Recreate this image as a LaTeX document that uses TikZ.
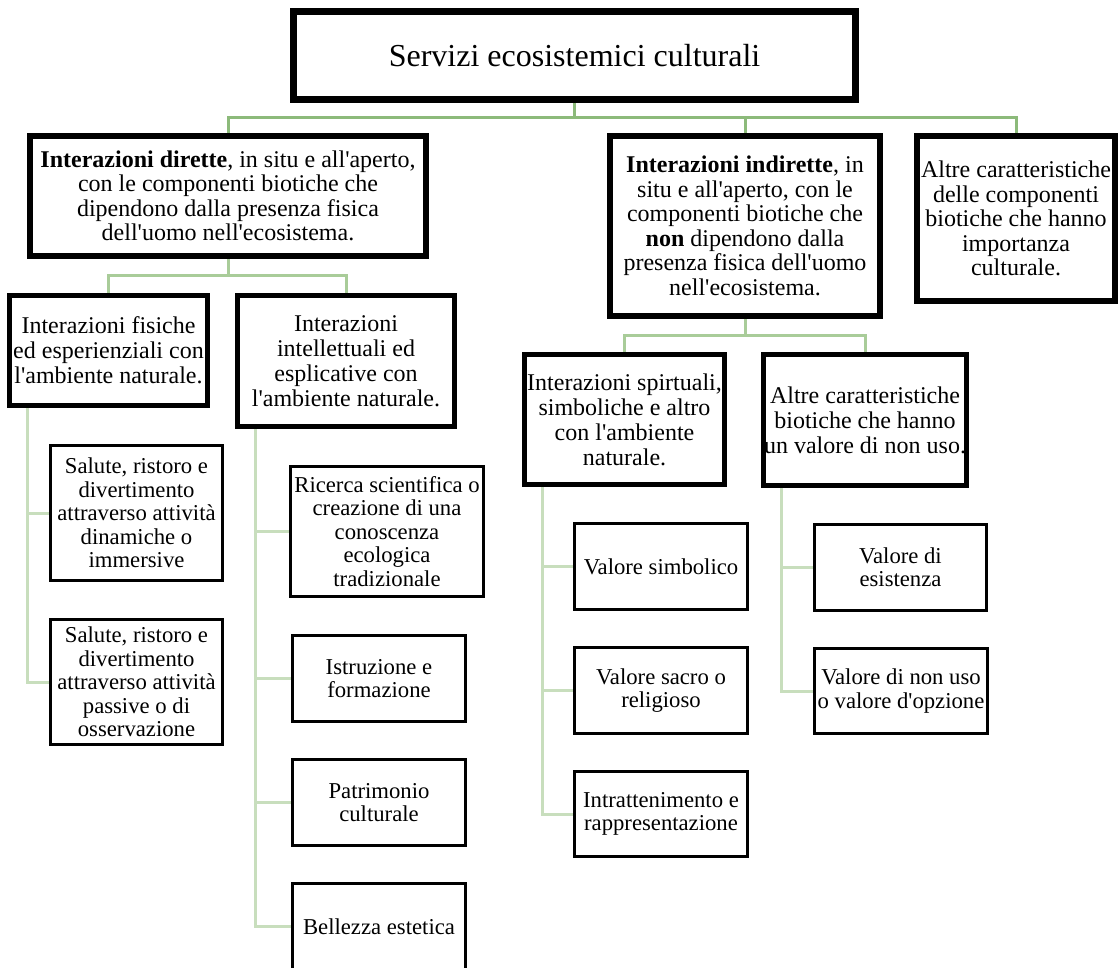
\documentclass[tikz,border=0pt]{standalone}
\usepackage{fontspec}
\setmainfont{Liberation Serif}[Ligatures=TeXOff]
\usepackage{xcolor}
\definecolor{ink}{HTML}{000000}
\definecolor{linkdark}{HTML}{8CBA7A}
\definecolor{linkmid}{HTML}{A9CC99}
\definecolor{linklight}{HTML}{C8DEBD}
\usetikzlibrary{positioning,backgrounds}

\tikzset{
	rootbox/.style={draw=ink, line width=7pt, inner sep=0pt, align=center,
		font=\fontsize{32}{36}\selectfont},
	topbox/.style={draw=ink, line width=6pt, inner sep=0pt, align=center,
		font=\fontsize{24}{24.5}\selectfont},
	midbox/.style={draw=ink, line width=5pt, inner sep=0pt, align=center,
		font=\fontsize{24}{25}\selectfont},
	leafbox/.style={draw=ink, line width=3pt, inner sep=0pt, align=center,
		font=\fontsize{22.7}{23.4}\selectfont},
	linkA/.style={draw=linkdark, line width=3pt},
	linkB/.style={draw=linkmid, line width=3pt},
	linkC/.style={draw=linklight, line width=3pt}
}

\begin{document}
\begin{tikzpicture}[x=1pt, y=-1pt]

		\useasboundingbox (0,0) rectangle (1119,967);

		% ================= root =================
		\node[rootbox, minimum width=562, minimum height=88] (root) at (574.5,55.5)
			{Servizi ecosistemici culturali};

		% ================= first level =================
		\node[topbox, minimum width=396, minimum height=120] (dir) at (228,196)
			{\textbf{Interazioni dirette}, in situ e all'aperto,\\con le componenti biotiche che\\dipendono dalla presenza fisica\\dell'uomo nell'ecosistema.};
		\node[topbox, minimum width=270, minimum height=180] (ind) at (745,226)
			{\textbf{Interazioni indirette}, in\\situ e all'aperto, con le\\componenti biotiche che\\\textbf{non} dipendono dalla\\presenza fisica dell'uomo\\nell'ecosistema.};
		\node[topbox, minimum width=198, minimum height=165] (altre) at (1016,218.5)
			{Altre caratteristiche\\delle componenti\\biotiche che hanno\\importanza\\culturale.};

		% ================= second level =================
		\node[midbox, minimum width=198, minimum height=110] (fis) at (108.5,350.5)
			{Interazioni fisiche\\ed esperienziali con\\l'ambiente naturale.};
		\node[midbox, minimum width=217, minimum height=131] (int) at (346,361)
			{Interazioni\\intellettuali ed\\esplicative con\\l'ambiente naturale.};
		\node[midbox, minimum width=200, minimum height=130] (spi) at (624.5,419.5)
			{Interazioni spirtuali,\\simboliche e altro\\con l'ambiente\\naturale.};
		\node[midbox, minimum width=203, minimum height=131] (nonuso) at (865,420)
			{Altre caratteristiche\\biotiche che hanno\\un valore di non uso.};

		% ================= leaves =================
		\node[leafbox, minimum width=172, minimum height=135] (fisA) at (136.5,513)
			{Salute, ristoro e\\divertimento\\attraverso attività\\dinamiche o\\immersive};
		\node[leafbox, minimum width=172, minimum height=125] (fisB) at (136.5,682)
			{Salute, ristoro e\\divertimento\\attraverso attività\\passive o di\\osservazione};

		\node[leafbox, minimum width=193, minimum height=130] (intA) at (387,531.5)
			{Ricerca scientifica o\\creazione di una\\conoscenza\\ecologica\\tradizionale};
		\node[leafbox, minimum width=173, minimum height=86] (intB) at (379,678.5)
			{Istruzione e\\formazione};
		\node[leafbox, minimum width=173, minimum height=86] (intC) at (379,802.5)
			{Patrimonio\\culturale};
		\node[leafbox, minimum width=173, minimum height=86] (intD) at (379,926.5)
			{Bellezza estetica};

		\node[leafbox, minimum width=173, minimum height=86] (spiA) at (661,566.5)
			{Valore simbolico};
		\node[leafbox, minimum width=173, minimum height=86] (spiB) at (661,690.5)
			{Valore sacro o\\religioso};
		\node[leafbox, minimum width=173, minimum height=85] (spiC) at (661,814)
			{Intrattenimento e\\rappresentazione};

		\node[leafbox, minimum width=172, minimum height=86] (nonusoA) at (900.5,567.5)
			{Valore di\\esistenza};
		\node[leafbox, minimum width=173, minimum height=85] (nonusoB) at (901,691)
			{Valore di non uso\\o valore d'opzione};

		% ================= connectors =================
		\begin{scope}[on background layer]
			\coordinate (rootbus) at (574.5,117);
			\coordinate (dirbus) at (228,275);
			\coordinate (indbus) at (745,335);

			\foreach \n in {dir,ind,altre}
				\draw[linkA] (root.south) -- (rootbus) -| (\n.north);

			\foreach \n in {fis,int}
				\draw[linkB] (dir.south) -- (dirbus) -| (\n.north);
			\foreach \n in {spi,nonuso}
				\draw[linkB] (ind.south) -- (indbus) -| (\n.north);

			% spines down the left side of each second level box
			\foreach \p/\kids in {fis/{fisA,fisB}, int/{intA,intB,intC,intD},
					spi/{spiA,spiB,spiC}, nonuso/{nonusoA,nonusoB}}{
				\coordinate (\p spine) at ([xshift=20pt]\p.south west);
				\foreach \k in \kids
					\draw[linkC] (\p spine) |- (\k.west);
			}
		\end{scope}

	\end{tikzpicture}
\end{document}
